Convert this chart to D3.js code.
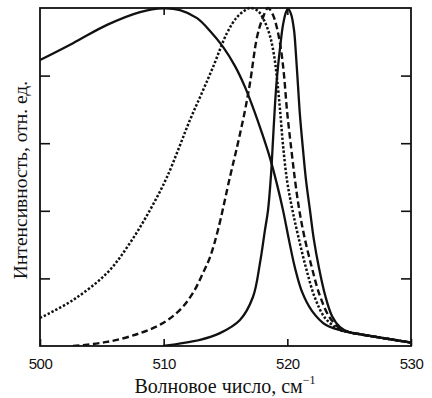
<!DOCTYPE html>
<html><head><meta charset="utf-8">
<script src="https://cdn.jsdelivr.net/npm/d3@7/dist/d3.min.js"></script>
<style>body{margin:0;background:#fff}svg{display:block}</style>
</head><body>
<svg id="c" width="432" height="398"></svg>
<script>
const xTicks = [500, 510, 520, 530];
const yTicks = [0.2, 0.4, 0.6, 0.8];

const broadX = [500, 502.67, 505.42, 508.09, 509.95, 511.32, 512.70, 513.75, 514.80, 515.77, 516.58, 517.30, 517.95, 518.60, 519.16, 519.65, 520.13, 520.62, 521.19, 521.99, 523.13, 524.99, 526, 527, 528, 529, 530];
const broadY = [0.846, 0.896, 0.950, 0.988, 0.999, 0.994, 0.970, 0.932, 0.885, 0.828, 0.766, 0.698, 0.630, 0.556, 0.479, 0.402, 0.314, 0.231, 0.160, 0.104, 0.062, 0.041, 0.034, 0.028, 0.022, 0.016, 0.01];

const dottedX = [500, 502.67, 505.42, 507.28, 508.89, 510.27, 512.13, 513.02, 513.99, 515.12, 515.93, 516.50, 516.98, 517.63, 518.11, 518.60, 518.92, 519.16, 519.41, 519.65, 519.97, 520.38, 520.86, 521.51, 522.24, 523.05, 524.26, 524.99, 526, 527, 528, 529, 530];
const dottedY = [0.083, 0.136, 0.216, 0.305, 0.402, 0.500, 0.669, 0.743, 0.825, 0.926, 0.973, 0.991, 1.0, 0.991, 0.964, 0.917, 0.861, 0.793, 0.698, 0.595, 0.491, 0.408, 0.328, 0.231, 0.142, 0.083, 0.047, 0.041, 0.034, 0.028, 0.022, 0.016, 0.01];

const dashedX = [502.67, 505.42, 508.09, 509.95, 511.32, 512.37, 513.18, 513.75, 514.39, 515.36, 516.01, 516.58, 516.98, 517.55, 517.95, 518.44, 518.84, 519.16, 519.49, 519.73, 519.97, 520.30, 520.62, 520.94, 521.35, 521.99, 522.64, 523.45, 524.42, 524.99, 526, 527, 528, 529, 530];
const dashedY = [0.0, 0.012, 0.038, 0.068, 0.107, 0.157, 0.216, 0.263, 0.343, 0.500, 0.601, 0.698, 0.778, 0.914, 0.964, 1.0, 0.979, 0.941, 0.876, 0.802, 0.698, 0.589, 0.491, 0.408, 0.328, 0.231, 0.148, 0.083, 0.047, 0.041, 0.034, 0.028, 0.022, 0.016, 0.01];

const narrowX = [509.95, 512.94, 514.55, 516.17, 517.22, 517.79, 518.19, 518.44, 518.68, 518.84, 519.00, 519.16, 519.41, 519.65, 519.89, 520.05, 520.30, 520.54, 520.70, 520.86, 521.02, 521.27, 521.51, 521.83, 522.15, 522.56, 523.05, 523.61, 524.26, 524.99, 526, 527, 528, 529, 530];
const narrowY = [0.0, 0.018, 0.038, 0.077, 0.145, 0.246, 0.343, 0.402, 0.506, 0.609, 0.713, 0.793, 0.882, 0.950, 0.988, 0.998, 0.982, 0.935, 0.861, 0.772, 0.683, 0.580, 0.491, 0.402, 0.314, 0.231, 0.151, 0.089, 0.056, 0.041, 0.034, 0.028, 0.022, 0.016, 0.01];

const svg = d3.select('#c');
const L = 40, R = 411, T = 8, B = 346;
const x = d3.scaleLinear().domain([500, 530]).range([L, R]);
const y = d3.scaleLinear().domain([0, 1]).range([B, T]);

const line = d3.line().x(d => x(d[0])).y(d => y(d[1])).curve(d3.curveCatmullRom.alpha(0.5));
const zip = (a, b) => a.map((v, i) => [v, b[i]]);

const g = svg.append('g');
g.append('clipPath').attr('id', 'clip').append('rect')
  .attr('x', L).attr('y', T - 2).attr('width', R - L).attr('height', B - T + 2);
const plot = g.append('g').attr('clip-path', 'url(#clip)');

const series = [
  {xs: broadX, ys: broadY, dash: null, w: 2.3},
  {xs: dottedX, ys: dottedY, dash: '2.4,1.9', w: 2.5},
  {xs: dashedX, ys: dashedY, dash: '6.5,3.5', w: 2.4},
  {xs: narrowX, ys: narrowY, dash: null, w: 2.3}
];
series.forEach(s => {
  plot.append('path').datum(zip(s.xs, s.ys))
    .attr('d', line).attr('fill', 'none').attr('stroke', '#111')
    .attr('stroke-width', s.w).attr('stroke-dasharray', s.dash);
});

// axes with inward ticks
const axB = d3.axisBottom(x).tickValues(xTicks).tickSizeInner(-7).tickSizeOuter(0).tickPadding(12).tickFormat(d3.format('d'));
const axT = d3.axisTop(x).tickValues([510, 520]).tickSizeInner(-7).tickSizeOuter(0).tickFormat('');
const axL = d3.axisLeft(y).tickValues(yTicks).tickSizeInner(-10).tickSizeOuter(0).tickFormat('');
const axR = d3.axisRight(y).tickValues(yTicks).tickSizeInner(-10).tickSizeOuter(0).tickFormat('');

function style(sel) {
  sel.select('.domain').remove();
  sel.selectAll('line').attr('stroke', '#111').attr('stroke-width', 1.6);
}
const gb = svg.append('g').attr('transform', `translate(0,${B})`).call(axB).call(style);
gb.selectAll('text').attr('font-family', '"Liberation Sans", Arial, sans-serif')
  .attr('font-size', 15).attr('fill', '#111').attr('letter-spacing', '-0.5');
svg.append('g').attr('transform', `translate(0,${T})`).call(axT).call(style);
svg.append('g').attr('transform', `translate(${L},0)`).call(axL).call(style);
svg.append('g').attr('transform', `translate(${R},0)`).call(axR).call(style);

svg.append('rect').attr('x', L).attr('y', T).attr('width', R - L).attr('height', B - T)
  .attr('fill', 'none').attr('stroke', '#111').attr('stroke-width', 1.8);

// axis titles
const xl = svg.append('text').attr('x', 225).attr('y', 393)
  .attr('text-anchor', 'middle').attr('font-family', '"Liberation Serif", "Times New Roman", serif')
  .attr('font-size', 20).attr('fill', '#111');
xl.append('tspan').text('Волновое число, см');
xl.append('tspan').attr('font-size', 12).attr('dy', -9).text('−1');

svg.append('text').attr('transform', `translate(27,180) rotate(-90)`)
  .attr('text-anchor', 'middle').attr('font-family', '"Liberation Serif", "Times New Roman", serif')
  .attr('font-size', 19.5).attr('fill', '#111').text('Интенсивность, отн. ед.');
</script>
</body></html>
